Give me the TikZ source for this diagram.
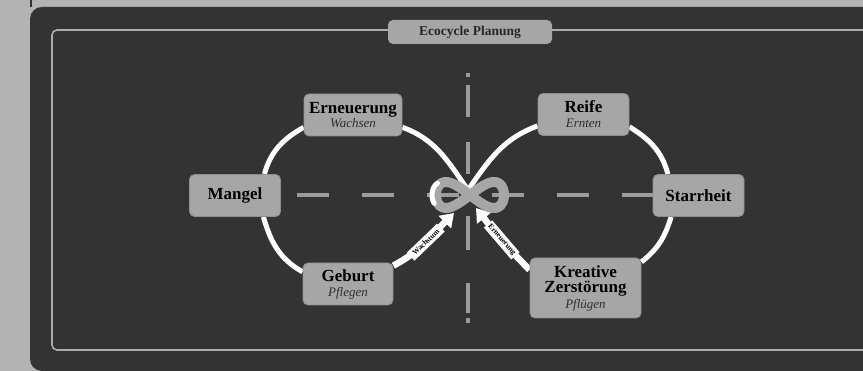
\documentclass[tikz,border=0pt]{standalone}
\usepackage{fontspec}
\setmainfont{Liberation Serif}
\usetikzlibrary{arrows.meta}
\pgfdeclarelayer{bg}
\pgfdeclarelayer{lines}
\pgfsetlayers{bg,lines,main}
\definecolor{pagegray}{HTML}{B3B3B3}
\definecolor{board}{HTML}{333333}
\definecolor{boxgray}{HTML}{A6A6A6}
\definecolor{boxedge}{HTML}{8E8E8E}
\definecolor{dashgray}{HTML}{9C9C9C}
\definecolor{framegray}{HTML}{ADADAD}
\definecolor{subtext}{HTML}{2E2E2E}
\newcommand{\phase}[1]{{\fontsize{13}{13}\selectfont\mdseries\itshape\color{subtext}#1}}

\begin{document}
\begin{tikzpicture}[x=1pt,y=1pt,
	stage/.style={draw=boxedge,line width=0.8pt,fill=boxgray,rounded corners=5pt,align=center,inner sep=2pt,minimum height=42pt,font=\fontsize{17}{15}\selectfont\bfseries,text=black},
	heading/.style={fill=boxgray,rounded corners=5pt,minimum width=164pt,minimum height=24pt,font=\fontsize{13.5}{13.5}\selectfont\bfseries,text=black!85},
	loop/.style={white,line width=5pt},
	flow/.style={white,line width=6.5pt,-{Triangle[width=17pt,length=13pt]}},
	flowlabel/.style={fill=white,text=black,sloped,inner sep=1.5pt,minimum width=42pt,minimum height=11pt,font=\fontsize{7.5}{7.5}\selectfont\bfseries},
	axis/.style={dashgray,line width=3.3pt}]
	
	\useasboundingbox (0,0) rectangle (863,371);
	\clip (0,0) rectangle (863,371);
	
	% board and frame
	\begin{pgfonlayer}{bg}
		\fill[pagegray] (0,0) rectangle (863,371);
		\fill[board,rounded corners=12pt] (30,0) rectangle (900,364);
		\draw[board,line width=2pt] (31,364)--(31,371);
		\draw[framegray,line width=1.6pt,rounded corners=5pt] (52,21) rectangle (900,341);
		\draw[axis,dash pattern=on 32pt off 33pt] (297,176)--(654,176);
		\foreach \ya/\yb in {298/294,286/254,229/197,155/121,88/58,53/48}
			\draw[axis] (468,\ya)--(468,\yb);
	\end{pgfonlayer}
	
	\node[heading] (title) at (470,339) {Ecocycle Planung};
	
	\node[stage,minimum width=91pt] (Mangel) at (235,175.5) {Mangel};
	\node[stage,minimum width=98pt] (Erneuerung) at (353,256) {Erneuerung\\[-1pt]\phase{Wachsen}};
	\node[stage,minimum width=90pt] (Geburt) at (348,87) {Geburt\\\phase{Pflegen}};
	\node[stage,minimum width=91pt] (Reife) at (583.5,256.5) {Reife\\\phase{Ernten}};
	\node[stage,minimum width=91pt] (Starrheit) at (698.5,175.5) {Starrheit};
	\node[stage,minimum width=111pt,minimum height=60pt] (Kreative) at (585.5,83) {Kreative\\Zerstörung\\[1pt]\phase{Pflügen}};
	
	\coordinate (C) at (468,181);
	\coordinate (wtip) at (454,158);
	\coordinate (etip) at (476,163);
	
	\begin{pgfonlayer}{lines}
		\draw[loop] (Mangel.36) to[out=75,in=210] (Erneuerung.194);
		\draw[loop] (Erneuerung.-14) to[out=-20,in=125] (C);
		\draw[loop] (C) to[out=55,in=200] (Reife.194);
		\draw[loop] (Reife.-15) to[out=-32,in=105] (Starrheit.145);
		\draw[loop] (Starrheit.218) to[out=-107,in=38] (Kreative.25);
		\draw[loop] (Mangel.-37) to[out=-74,in=151] (Geburt.165);
		\draw[flow] (Geburt.22) to[out=28,in=-135] node[flowlabel] {Wachstum} (wtip);
		\draw[flow] (Kreative.162) to[out=135,in=-52] node[flowlabel] {Erneuerung} (etip);
		
		% infinity ribbon
		\draw[boxgray,line width=10pt,line join=round] plot[domain=0:360,samples=73,variable=\t] ({470+34*cos(\t)},{176+13*sin(2*\t)}) -- cycle;
		\draw[white,line width=5pt,line cap=round] plot[domain=160:212,samples=12,variable=\t] ({468+36*cos(\t)},{176+13*sin(2*\t)});
	\end{pgfonlayer}
\end{tikzpicture}
\end{document}
